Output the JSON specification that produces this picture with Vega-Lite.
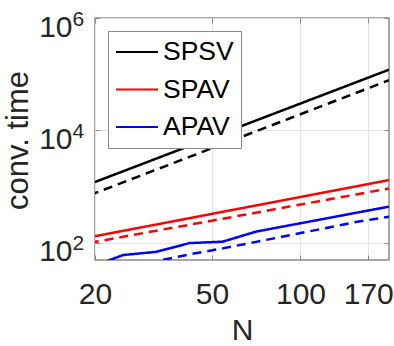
{
  "$schema": "https://vega.github.io/schema/vega-lite/v6.json",
  "width": 294,
  "height": 242,
  "autosize": {"type": "none"},
  "padding": {"left": 95, "top": 18, "right": 5, "bottom": 86},
  "background": "white",
  "config": {
    "font": "Liberation Sans",
    "view": {"stroke": "#8a8a8a", "strokeWidth": 1.5},
    "axis": {
      "domain": false,
      "gridColor": "#e3e3e3",
      "gridWidth": 1,
      "tickColor": "#8a8a8a",
      "tickSize": -5,
      "tickWidth": 1,
      "labelFont": "Liberation Sans",
      "labelFontSize": 30,
      "labelColor": "#262626",
      "titleFont": "Liberation Sans",
      "titleFontSize": 30,
      "titleFontWeight": "normal",
      "titleColor": "#262626"
    }
  },
  "data": {
    "values": [
      {"N": 19.2, "method": "SPSV", "type": "solid", "v": 1106},
      {"N": 24.9, "method": "SPSV", "type": "solid", "v": 1860},
      {"N": 32.3, "method": "SPSV", "type": "solid", "v": 3130},
      {"N": 41.9, "method": "SPSV", "type": "solid", "v": 5267},
      {"N": 54.4, "method": "SPSV", "type": "solid", "v": 8878},
      {"N": 70.6, "method": "SPSV", "type": "solid", "v": 14953},
      {"N": 91.6, "method": "SPSV", "type": "solid", "v": 25172},
      {"N": 118.9, "method": "SPSV", "type": "solid", "v": 42411},
      {"N": 154.2, "method": "SPSV", "type": "solid", "v": 71333},
      {"N": 200, "method": "SPSV", "type": "solid", "v": 120000},
      {"N": 19.2, "method": "SPSV", "type": "dashed", "v": 700},
      {"N": 24.9, "method": "SPSV", "type": "dashed", "v": 1180},
      {"N": 32.3, "method": "SPSV", "type": "dashed", "v": 1990},
      {"N": 41.9, "method": "SPSV", "type": "dashed", "v": 3360},
      {"N": 54.4, "method": "SPSV", "type": "dashed", "v": 5680},
      {"N": 70.6, "method": "SPSV", "type": "dashed", "v": 9600},
      {"N": 91.6, "method": "SPSV", "type": "dashed", "v": 16200},
      {"N": 118.9, "method": "SPSV", "type": "dashed", "v": 27400},
      {"N": 154.2, "method": "SPSV", "type": "dashed", "v": 46200},
      {"N": 200, "method": "SPSV", "type": "dashed", "v": 78000},
      {"N": 19.2, "method": "SPAV", "type": "solid", "v": 125},
      {"N": 24.9, "method": "SPAV", "type": "solid", "v": 162},
      {"N": 32.3, "method": "SPAV", "type": "solid", "v": 210},
      {"N": 41.9, "method": "SPAV", "type": "solid", "v": 272},
      {"N": 54.4, "method": "SPAV", "type": "solid", "v": 354},
      {"N": 70.6, "method": "SPAV", "type": "solid", "v": 459},
      {"N": 91.6, "method": "SPAV", "type": "solid", "v": 595},
      {"N": 118.9, "method": "SPAV", "type": "solid", "v": 773},
      {"N": 154.2, "method": "SPAV", "type": "solid", "v": 1002},
      {"N": 200, "method": "SPAV", "type": "solid", "v": 1300},
      {"N": 19.2, "method": "SPAV", "type": "dashed", "v": 99},
      {"N": 24.9, "method": "SPAV", "type": "dashed", "v": 127},
      {"N": 32.3, "method": "SPAV", "type": "dashed", "v": 163},
      {"N": 41.9, "method": "SPAV", "type": "dashed", "v": 208},
      {"N": 54.4, "method": "SPAV", "type": "dashed", "v": 266},
      {"N": 70.6, "method": "SPAV", "type": "dashed", "v": 341},
      {"N": 91.6, "method": "SPAV", "type": "dashed", "v": 438},
      {"N": 118.9, "method": "SPAV", "type": "dashed", "v": 561},
      {"N": 154.2, "method": "SPAV", "type": "dashed", "v": 719},
      {"N": 200, "method": "SPAV", "type": "dashed", "v": 920},
      {"N": 19.2, "method": "APAV", "type": "solid", "v": 36},
      {"N": 24.9, "method": "APAV", "type": "solid", "v": 60},
      {"N": 32.3, "method": "APAV", "type": "solid", "v": 68.5},
      {"N": 41.9, "method": "APAV", "type": "solid", "v": 98},
      {"N": 54.4, "method": "APAV", "type": "solid", "v": 104},
      {"N": 70.6, "method": "APAV", "type": "solid", "v": 157},
      {"N": 91.6, "method": "APAV", "type": "solid", "v": 203},
      {"N": 118.9, "method": "APAV", "type": "solid", "v": 262},
      {"N": 154.2, "method": "APAV", "type": "solid", "v": 339},
      {"N": 200, "method": "APAV", "type": "solid", "v": 437},
      {"N": 19.2, "method": "APAV", "type": "dashed", "v": 26},
      {"N": 24.9, "method": "APAV", "type": "dashed", "v": 34},
      {"N": 32.3, "method": "APAV", "type": "dashed", "v": 46.5},
      {"N": 41.9, "method": "APAV", "type": "dashed", "v": 61.7},
      {"N": 54.4, "method": "APAV", "type": "dashed", "v": 78.9},
      {"N": 70.6, "method": "APAV", "type": "dashed", "v": 103},
      {"N": 91.6, "method": "APAV", "type": "dashed", "v": 135},
      {"N": 118.9, "method": "APAV", "type": "dashed", "v": 177},
      {"N": 154.2, "method": "APAV", "type": "dashed", "v": 232},
      {"N": 200, "method": "APAV", "type": "dashed", "v": 290}
    ]
  },
  "resolve": {"axis": {"x": "independent", "y": "independent"}},
  "layer": [
    {
      "mark": {"type": "line", "clip": true, "strokeWidth": 2.5},
      "encoding": {
        "x": {
          "field": "N",
          "type": "quantitative",
          "scale": {"type": "log", "domain": [20, 200], "nice": false},
          "axis": {
            "orient": "bottom",
            "grid": true,
            "values": [20, 50, 100, 170],
            "labelPadding": 24,
            "labelFlush": false,
            "title": "N",
            "titleX": 147,
            "titleY": 79,
            "titleBaseline": "alphabetic",
            "titleAnchor": "middle"
          }
        },
        "y": {
          "field": "v",
          "type": "quantitative",
          "scale": {"type": "log", "domain": [49, 1000000], "nice": false},
          "axis": {
            "orient": "left",
            "grid": true,
            "values": [100, 10000, 1000000],
            "labelExpr": "'10'",
            "labelBaseline": "alphabetic",
            "labelOffset": 18,
            "labelPadding": 28,
            "labelFlush": false,
            "title": "conv. time",
            "titleFontSize": 31,
            "titleX": -68,
            "titleY": 122,
            "titleAngle": -90,
            "titleBaseline": "alphabetic",
            "titleAlign": "center"
          }
        },
        "color": {
          "field": "method",
          "type": "nominal",
          "scale": {"domain": ["SPSV", "SPAV", "APAV"], "range": ["#000000", "#ff0000", "#0000ff"]},
          "legend": {
            "title": null,
            "orient": "none",
            "legendX": 13,
            "legendY": 13,
            "direction": "vertical",
            "padding": 7,
            "fillColor": "white",
            "strokeColor": "#8a8a8a",
            "symbolType": "stroke",
            "symbolSize": 1764,
            "symbolStrokeWidth": 2,
            "clipHeight": 28,
            "labelFont": "Liberation Sans",
            "labelFontSize": 26.5,
            "labelColor": "#000000",
            "labelOffset": 4,
            "rowPadding": 9.5
          }
        },
        "strokeDash": {
          "field": "type",
          "type": "nominal",
          "scale": {"domain": ["solid", "dashed"], "range": [[1, 0], [9, 6]]},
          "legend": null
        }
      }
    },
    {
      "mark": {"type": "line", "clip": true, "opacity": 0},
      "encoding": {
        "x": {
          "field": "N",
          "type": "quantitative",
          "axis": {
            "orient": "top",
            "grid": false,
            "values": [20, 50, 100, 170],
            "labels": false,
            "title": null
          }
        },
        "y": {
          "field": "v",
          "type": "quantitative",
          "axis": {
            "orient": "left",
            "grid": false,
            "ticks": false,
            "tickSize": 0,
            "values": [100, 10000, 1000000],
            "labelExpr": "datum.value == 100 ? '2' : datum.value == 10000 ? '4' : '6'",
            "labelFontSize": 21,
            "labelAlign": "left",
            "labelBaseline": "alphabetic",
            "labelOffset": 7,
            "labelPadding": 23,
            "labelFlush": false,
            "title": null
          }
        },
        "detail": {"field": "method"}
      }
    },
    {
      "mark": {"type": "line", "clip": true, "opacity": 0},
      "encoding": {
        "x": {"field": "N", "type": "quantitative", "axis": null},
        "y": {
          "field": "v",
          "type": "quantitative",
          "axis": {
            "orient": "right",
            "grid": false,
            "values": [100, 10000, 1000000],
            "labels": false,
            "title": null
          }
        },
        "detail": {"field": "method"}
      }
    }
  ]
}
